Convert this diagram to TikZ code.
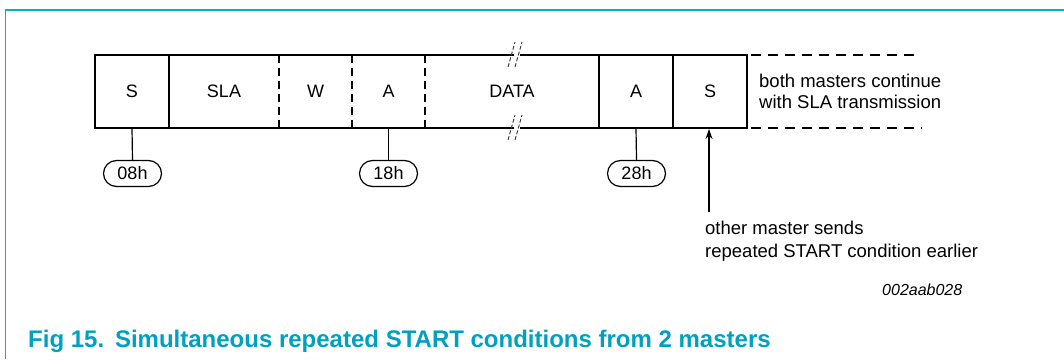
\documentclass[tikz,border=0pt]{standalone}
\usepackage{fontspec}
\setmainfont{Liberation Sans}
\usetikzlibrary{shapes.misc,arrows.meta}
\definecolor{frame}{RGB}{0,178,202}
\definecolor{capcol}{RGB}{0,160,192}
\tikzset{
  x=1pt,y=-1pt,
  cell/.style={inner sep=0pt,minimum height=73pt,font=\fontsize{18}{21}\selectfont},
  boxline/.style={line width=2pt},
  dashline/.style={line width=2pt,dash pattern=on 8pt off 5pt},
  dashright/.style={line width=2pt,dash pattern=on 10pt off 7pt},
  stem/.style={line width=1.2pt},
  oval/.style={draw,line width=1.2pt,rounded rectangle,minimum width=58pt,minimum height=26pt,inner sep=0pt,font=\fontsize{18}{21}\selectfont},
  note/.style={anchor=north west,align=left,inner sep=0pt},
  slash/.style={line width=0.9pt,dash pattern=on 4pt off 2pt,gray!40!black}
}
\begin{document}
\begin{tikzpicture}
\useasboundingbox (0,0) rectangle (1064,359);
% frame
\draw[frame,line width=1.3pt] (1064,10) -- (5.5,10) -- (5.5,359);
% cells
\node[cell,minimum width=74pt] (s1) at (132,91.5) {S};
\node[cell,minimum width=110pt] (sla) at (224,91.5) {SLA};
\node[cell,minimum width=73pt] (w) at (315.5,91.5) {W};
\node[cell,minimum width=73pt] (a1) at (388.5,91.5) {A};
\node[cell,minimum width=174pt] (data) at (512,91.5) {DATA};
\node[cell,minimum width=74pt] (a2) at (636,91.5) {A};
\node[cell,minimum width=74pt] (s2) at (710,91.5) {S};
% outline
\draw[boxline] (95,55) rectangle (747,128);
\draw[boxline] (169,55) -- (169,128);
\draw[boxline] (599,55) -- (599,128);
\draw[boxline] (673,55) -- (673,128);
\draw[dashline] (279,55) -- (279,128);
\draw[dashline] (352,55) -- (352,128);
\draw[dashline] (425,55) -- (425,128);
% breaks
\fill[white] (513.5,52) rectangle (519.5,58);
\fill[white] (513.5,125) rectangle (519.5,131);
\draw[slash] (508,67) -- (515,42);
\draw[slash] (515,67) -- (522,42);
\draw[slash] (508,140) -- (515,115);
\draw[slash] (515,140) -- (522,115);
% continuation
\draw[dashright] (751,55) -- (915,55);
\draw[dashright] (751,128) -- (922,128);
\node[note,font=\fontsize{18.5}{21}\selectfont] (cont) at (759,73.5) {both masters continue\\with SLA transmission};
% ovals
\node[oval] (o1) at (132.5,173.5) {08h};
\node[oval] (o2) at (388.5,173.5) {18h};
\node[oval] (o3) at (636.5,173.5) {28h};
\draw[stem] (s1.south) -- (o1.north);
\draw[stem] (a1.south) -- (o2.north);
\draw[stem] (a2.south) -- (o3.north);
% arrow
\node[note,font=\fontsize{18.5}{23}\selectfont] (other) at (705,220.5) {other master sends\\repeated START condition earlier};
\coordinate (arrbot) at (709,212);
\draw[stem,-{Stealth[length=10pt,width=7pt]}] (arrbot) -- (709,129);
\node[anchor=base west,inner sep=0pt,font=\fontsize{16}{18}\selectfont\itshape] (code) at (882,295) {002aab028};
% caption
\node[anchor=base west,inner sep=0pt,text=capcol,font=\fontsize{24}{27}\selectfont\bfseries] (cap) at (28,347.7) {Fig 15.\hspace{0.45em}Simultaneous repeated START conditions from 2 masters};
\end{tikzpicture}
\end{document}
